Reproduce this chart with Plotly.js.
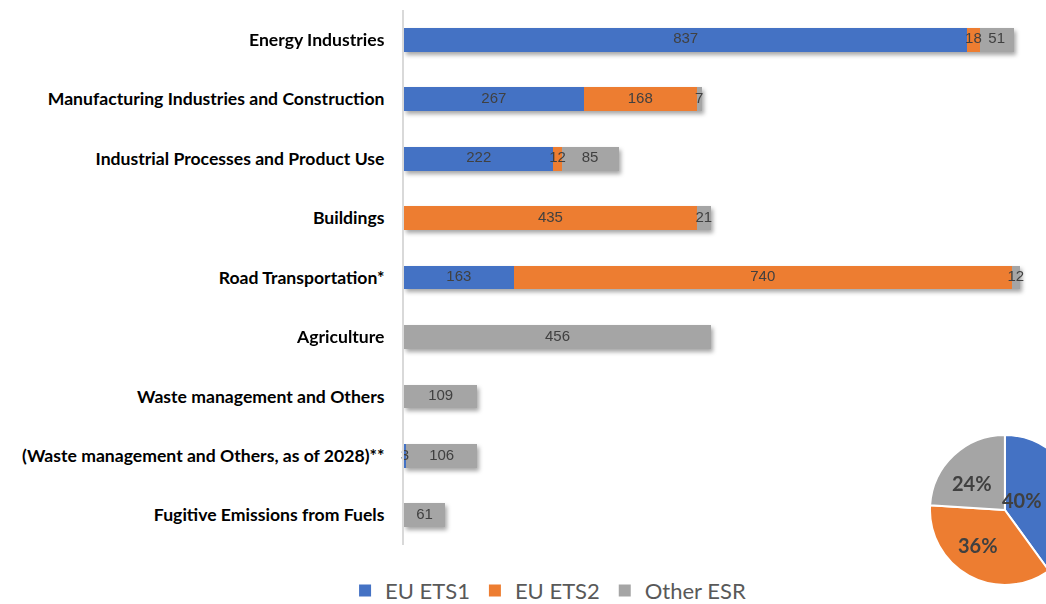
<!DOCTYPE html>
<html>
<head>
<meta charset="utf-8">
<script src="https://cdn.plot.ly/plotly-3.0.1.min.js"></script>
<style>
html,body{margin:0;padding:0;overflow:hidden;background:#fff;}
#chart{width:1100px;height:604px;}
#chart g.barlayer{filter:drop-shadow(2px 3px 2px rgba(0,0,0,0.35));}
</style>
</head>
<body>
<div id="chart"></div>
<script>
const categories = [
  "Energy Industries",
  "Manufacturing Industries and Construction",
  "Industrial Processes and Product Use",
  "Buildings",
  "Road Transportation*",
  "Agriculture",
  "Waste management and Others",
  "(Waste management and Others, as of 2028)**",
  "Fugitive Emissions from Fuels"
];
const etS1 = [837, 267, 222, null, 163, null, null, 3, null];
const etS2 = [18, 168, 12, 435, 740, null, null, null, null];
const otherESR = [51, 7, 85, 21, 12, 456, 109, 106, 61];
const seriesNames = ["EU ETS1", "EU ETS2", "Other ESR"];
const pieShares = [40, 36, 24];

const colors = ["#4472C4", "#ED7D31", "#A5A5A5"];
const labelFont = {family: "Liberation Sans Narrow, Liberation Sans, sans-serif", size: 15, color: "#404040"};

const allSeries = [etS1, etS2, otherESR];

function barTrace(vals, name, color) {
  return {
    type: "bar", orientation: "h", y: categories, x: vals, name: name,
    marker: {color: color, line: {width: 0}},
    hoverinfo: "x+name"
  };
}

// value labels drawn on top of all bars, centred on each stacked segment
function labelTrace(idx) {
  const xs = [], ys = [], ts = [];
  categories.forEach((c, i) => {
    const v = allSeries[idx][i];
    if (v == null) return;
    let base = 0;
    for (let k = 0; k < idx; k++) base += (allSeries[k][i] || 0);
    xs.push(base + v / 2); ys.push(c); ts.push(String(v));
  });
  return {
    type: "scatter", mode: "text", x: xs, y: ys, text: ts,
    textposition: "middle center", textfont: labelFont,
    showlegend: false, hoverinfo: "skip", cliponaxis: false
  };
}

const data = [
  barTrace(etS1, seriesNames[0], colors[0]),
  barTrace(etS2, seriesNames[1], colors[1]),
  barTrace(otherESR, seriesNames[2], colors[2]),
  labelTrace(0), labelTrace(1), labelTrace(2),
  {
    type: "pie", values: pieShares, labels: seriesNames, sort: false,
    direction: "clockwise", rotation: 0, showlegend: false,
    marker: {colors: colors, line: {color: "#ffffff", width: 2}},
    textinfo: "none",
    domain: {x: [0.7557, 0.971], y: [0.032, 0.2845]}
  }
];

const pieLabelPos = [[0.888, 0.175], [0.825, 0.0993], [0.816, 0.204]];
const annotations = pieShares.map((s, i) => ({
  xref: "paper", yref: "paper", x: pieLabelPos[i][0], y: pieLabelPos[i][1],
  text: s + "%", showarrow: false, xanchor: "center", yanchor: "middle",
  font: {family: "Lato, sans-serif", size: 20, weight: "bold", color: "#404040"}
}));

const layout = {
  width: 1100, height: 604,
  margin: {l: 404, r: 0, t: 10, b: 0, autoexpand: false},
  paper_bgcolor: "#ffffff", plot_bgcolor: "#ffffff",
  barmode: "stack", bargap: 0.6,
  xaxis: {range: [0, 1034], visible: false, fixedrange: true},
  yaxis: {
    domain: [0.0993, 1], autorange: "reversed", type: "category",
    showline: true, linecolor: "#d9d9d9", linewidth: 2,
    showgrid: false, ticks: "", ticklabelstandoff: 14, automargin: false,
    tickfont: {family: "Lato, sans-serif", size: 17.6, weight: "bold", color: "#000000"}
  },
  showlegend: true,
  legend: {
    orientation: "h", x: 0.207, xanchor: "center", y: -0.013, yanchor: "bottom",
    font: {family: "Lato, sans-serif", size: 22, color: "#595959"},
    traceorder: "normal"
  },
  annotations: annotations
};

Plotly.newPlot("chart", data, layout, {staticPlot: true, displayModeBar: false});
</script>
</body>
</html>
